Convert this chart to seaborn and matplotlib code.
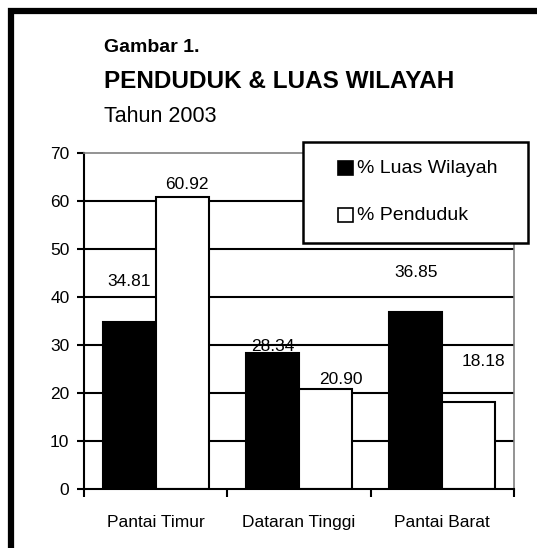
import matplotlib
matplotlib.use("Agg")
import matplotlib.pyplot as plt
import matplotlib.font_manager as fm
from matplotlib.patches import Rectangle
import seaborn as sns
import pandas as pd

regions = ["Pantai Timur", "Dataran Tinggi", "Pantai Barat"]
luas_wilayah = [34.81, 28.34, 36.85]
penduduk = [60.92, 20.90, 18.18]
series_names = ["% Luas Wilayah", "% Penduduk"]
luas_labels = ["34.81", "28.34", "36.85"]
penduduk_labels = ["60.92", "20.90", "18.18"]

names = {f.name for f in fm.fontManager.ttflist}
FONT = "Liberation Sans Narrow" if "Liberation Sans Narrow" in names else "Liberation Sans"

sns.set_theme(style="white")
plt.rcParams["font.family"] = [FONT, "DejaVu Sans"]
plt.rcParams["text.color"] = "black"
plt.rcParams["xtick.color"] = "black"
plt.rcParams["ytick.color"] = "black"
plt.rcParams["xtick.labelcolor"] = "black"
plt.rcParams["ytick.labelcolor"] = "black"

df = pd.DataFrame({
    "Wilayah": regions * 2,
    "Persen": luas_wilayah + penduduk,
    "Seri": [series_names[0]] * 3 + [series_names[1]] * 3,
})

W, H = 537, 548
fig = plt.figure(figsize=(W / 100, H / 100), dpi=100)
fig.patch.set_facecolor("white")
ax = fig.add_axes([84 / W, 1 - 489 / H, (514 - 84) / W, (489 - 153) / H])

ax.set_axisbelow(True)
for v in range(10, 70, 10):
    ax.axhline(v, color="black", lw=1.5, zorder=0)

sns.barplot(data=df, x="Wilayah", y="Persen", hue="Seri",
            palette=["black", "white"], edgecolor="black", linewidth=1.5,
            width=0.74, gap=0, legend=False, ax=ax, zorder=2)

ax.set_xlim(-0.5, 2.5)
ax.set_ylim(0, 70)
ax.set_xlabel("")
ax.set_ylabel("")
ax.set_yticks(range(0, 80, 10))
ax.set_yticklabels([str(v) for v in range(0, 80, 10)], fontsize=12.5)
ax.tick_params(axis="y", length=5, width=1.5, color="black", pad=5.5, left=True)

ax.set_xticks([-0.5, 0.5, 1.5, 2.5])
ax.set_xticklabels([])
ax.tick_params(axis="x", which="major", length=6, width=1.5, color="black", bottom=True)
ax.set_xticks([0, 1, 2], minor=True)
ax.set_xticklabels(regions, minor=True, fontsize=12.5)
ax.tick_params(axis="x", which="minor", length=0, pad=18.5)

for s in ["left", "bottom"]:
    ax.spines[s].set_color("black")
    ax.spines[s].set_linewidth(1.5)
for s in ["top", "right"]:
    ax.spines[s].set_color("#808080")
    ax.spines[s].set_linewidth(1.2)

# value labels (Excel-style placement)
luas_pos = [(-0.185, 43.3), (0.815, 29.7), (1.815, 45.1)]
pend_pos = [(0.215, 63.5), (1.29, 22.8), (2.285, 26.5)]
for (x, y), t in zip(luas_pos, luas_labels):
    ax.text(x, y, t, ha="center", va="center", fontsize=12.5, color="black", zorder=5)
for (x, y), t in zip(pend_pos, penduduk_labels):
    ax.text(x, y, t, ha="center", va="center", fontsize=12.5, color="black", zorder=5)

# titles
fig.text(104 / W, 1 - 47 / H, "Gambar 1.", fontsize=14, fontweight="bold", va="center", ha="left")
fig.text(104 / W, 1 - 81 / H, "PENDUDUK & LUAS WILAYAH", fontsize=17.5, fontweight="bold", va="center", ha="left")
fig.text(104 / W, 1 - 117 / H, "Tahun 2003", fontsize=15.5, va="center", ha="left")

# legend box
fig.patches.append(Rectangle((303 / W, 1 - 243 / H), (528 - 303) / W, (243 - 142) / H,
                             transform=fig.transFigure, facecolor="white", edgecolor="black",
                             lw=1.8, zorder=10))
for i, (nm, fc) in enumerate(zip(series_names, ["black", "white"])):
    yc = 168 + i * 47
    fig.patches.append(Rectangle((338 / W, 1 - (yc + 7) / H), 15 / W, 14 / H,
                                 transform=fig.transFigure, facecolor=fc, edgecolor="black",
                                 lw=1.2, zorder=11))
    fig.text(357 / W, 1 - yc / H, nm, fontsize=14, va="center", ha="left", zorder=12)

# outer thick border
fig.patches.append(Rectangle((11 / W, -0.1), 1.2, 1 - 11 / H + 0.1,
                             transform=fig.transFigure, fill=False, edgecolor="black",
                             lw=4.5, zorder=20))

fig.savefig("out.png", dpi=100)
